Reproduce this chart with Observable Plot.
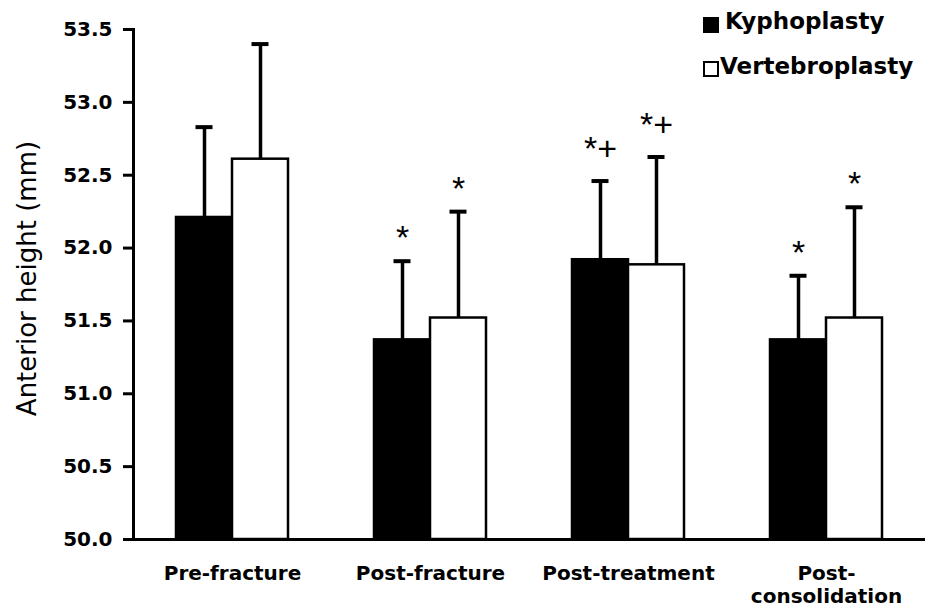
<!DOCTYPE html>
<html>
<head>
<meta charset="utf-8">
<script src="https://cdn.jsdelivr.net/npm/d3@7"></script>
<script src="https://cdn.jsdelivr.net/npm/@observablehq/plot@0.6"></script>
<style>
  body { margin: 0; background: #fff; }
  #wrap { position: relative; width: 930px; height: 616px; overflow: hidden; }
  .lg { position: absolute; font-family: "DejaVu Sans", sans-serif; font-weight: bold; font-size: 23px; line-height: 23px; color: #000; white-space: nowrap; }
  .sw { position: absolute; width: 16px; height: 16px; box-sizing: border-box; }
</style>
</head>
<body>
<div id="wrap"></div>
<script>
// ---- data ----
const categories = ["Pre-fracture", "Post-fracture", "Post-treatment", "Post-consolidation"];
const xTickLabels = ["Pre-fracture", "Post-fracture", "Post-treatment", "Post-\nconsolidation"];
const series = ["Kyphoplasty", "Vertebroplasty"];
const kyphoMean = [52.21, 51.37, 51.92, 51.37];
const kyphoSD   = [0.62, 0.54, 0.54, 0.44];
const kyphoSig  = ["", "*", "*+", "*"];
const vertMean  = [52.61, 51.52, 51.885, 51.52];
const vertSD    = [0.79, 0.73, 0.74, 0.76];
const vertSig   = ["", "*", "*+", "*"];
const yDomain = [50, 53.5];
const yTicks = [50, 50.5, 51, 51.5, 52, 52.5, 53, 53.5];
const yTitle = "Anterior height (mm)";

const data = categories.flatMap((c, i) => [
  {category: c, series: series[0], mean: kyphoMean[i], sd: kyphoSD[i], sig: kyphoSig[i]},
  {category: c, series: series[1], mean: vertMean[i], sd: vertSD[i], sig: vertSig[i]}
]);
data.forEach(d => d.top = d.mean + d.sd);

const sigStyle = {fx: "category", x: "series", y: "top", text: "sig", lineAnchor: "bottom", fontFamily: "Liberation Sans, sans-serif", fontWeight: "normal", fontSize: 34, fill: "#000"};

const plot = Plot.plot({
  width: 930,
  height: 616,
  marginLeft: 133,
  marginRight: 5,
  marginTop: 29,
  marginBottom: 77,
  style: {fontFamily: "DejaVu Sans, sans-serif", fontSize: "20px", fontWeight: "bold", color: "#000", background: "#fff", overflow: "visible"},
  fx: {domain: categories, padding: 0, label: null, axis: null},
  x: {domain: series, paddingInner: 0, paddingOuter: 0.737, axis: null},
  y: {domain: yDomain, axis: null},
  color: {domain: series, range: ["#000", "#fff"]},
  marks: [
    Plot.barY(data, {fx: "category", x: "series", y1: yDomain[0], y2: "mean", fill: "series", stroke: "#000", strokeWidth: 2.5}),
    Plot.ruleX(data, {fx: "category", x: "series", y1: "mean", y2: "top", stroke: "#000", strokeWidth: 3.5}),
    Plot.tickY(data, {fx: "category", x: "series", y: "top", stroke: "#000", strokeWidth: 4, insetLeft: 19.5, insetRight: 19.5}),
    Plot.text(data.filter(d => d.sig === "*"), {...sigStyle, dy: -12}),
    Plot.text(data.filter(d => d.sig === "*+"), {...sigStyle, dy: -21}),
    Plot.ruleY([yDomain[0]], {stroke: "#000", strokeWidth: 3}),
    Plot.frame({anchor: "left", facetAnchor: "left", stroke: "#000", strokeWidth: 3}),
    Plot.axisY({ticks: yTicks, tickFormat: d3.format(".1f"), tickSize: 10, tickPadding: 11, strokeWidth: 3, label: null, fontSize: 20}),
    Plot.axisFx({anchor: "bottom", tickSize: 0, tickPadding: 24, label: null, fontSize: 20, lineHeight: 1.15,
      tickFormat: d => xTickLabels[categories.indexOf(d)]}),
    Plot.text([yTitle], {frameAnchor: "left", facetAnchor: "left", textAnchor: "middle", rotate: -90, dx: -106, dy: -6, fontFamily: "DejaVu Sans, sans-serif", fontWeight: "normal", fontSize: 26, fill: "#000"})
  ]
});

const wrap = document.getElementById("wrap");
wrap.appendChild(plot);

// legend (overlaid top-right)
const legendItems = [
  {label: series[0], fill: "#000", top: 9.5, sx: 703, sy: 17, tx: 725},
  {label: series[1], fill: "#fff", top: 54.5, sx: 703, sy: 61, tx: 720}
];
for (const it of legendItems) {
  const sw = document.createElement("div");
  sw.className = "sw";
  sw.style.left = it.sx + "px";
  sw.style.top = it.sy + "px";
  sw.style.background = it.fill;
  sw.style.border = "2px solid #000";
  wrap.appendChild(sw);
  const t = document.createElement("div");
  t.className = "lg";
  t.style.left = it.tx + "px";
  t.style.top = it.top + "px";
  t.textContent = it.label;
  wrap.appendChild(t);
}
</script>
</body>
</html>
